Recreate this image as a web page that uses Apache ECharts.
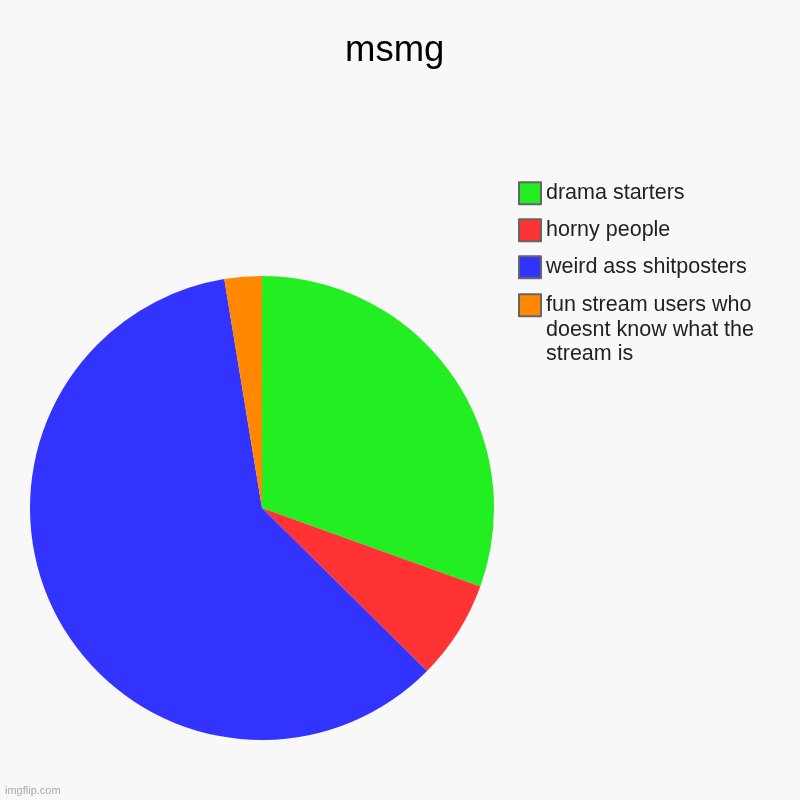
<!DOCTYPE html>
<html>
<head>
<meta charset="utf-8">
<script src="https://cdn.jsdelivr.net/npm/echarts@6/dist/echarts.min.js"></script>
<style>html,body{margin:0;padding:0;background:#f8f8f8;}#c{width:800px;height:800px;}</style>
</head>
<body>
<div id="c"></div>
<script>
const titleText = 'msmg';
const categories = ['drama starters', 'horny people', 'weird ass shitposters', 'fun stream users who doesnt know what the stream is'];
const values = [30.5, 6.9, 60, 2.6];
const colors = ['#22ee22', '#ff3333', '#3333ff', '#ff8800'];

const legendText = { fontFamily: 'Arial, Liberation Sans', fontSize: 21.5, color: '#222', lineHeight: 24.5 };
const legendCommon = {
  orient: 'vertical',
  left: 513,
  itemWidth: 22,
  itemHeight: 22,
  itemGap: 12.5,
  icon: 'rect',
  itemStyle: { borderColor: '#666', borderWidth: 2 },
  selectedMode: false
};

const chart = echarts.init(document.getElementById('c'));
chart.setOption({
  backgroundColor: '#f8f8f8',
  animation: false,
  title: {
    text: titleText,
    left: 340,
    top: 27,
    textStyle: { fontFamily: 'Arial, Liberation Sans', fontSize: 36.5, fontWeight: 'normal', color: '#000' }
  },
  legend: [
    Object.assign({}, legendCommon, {
      top: 176,
      data: categories.slice(0, 3),
      textStyle: legendText
    }),
    Object.assign({}, legendCommon, {
      top: 239,
      data: categories.slice(3),
      formatter: function (name) { return '\n\n' + name; },
      textStyle: Object.assign({}, legendText, { width: 222, overflow: 'break' })
    })
  ],
  series: [{
    type: 'pie',
    center: [262, 508],
    radius: 232,
    startAngle: 90,
    clockwise: true,
    label: { show: false },
    labelLine: { show: false },
    emphasis: { disabled: true },
    data: categories.map(function (c, i) {
      return { name: c, value: values[i], itemStyle: { color: colors[i] } };
    })
  }],
  graphic: [{
    type: 'text',
    left: 5,
    top: 785,
    style: { text: 'imgflip.com', fill: '#aaa', font: '11px Arial, Liberation Sans' }
  }]
});
</script>
</body>
</html>
